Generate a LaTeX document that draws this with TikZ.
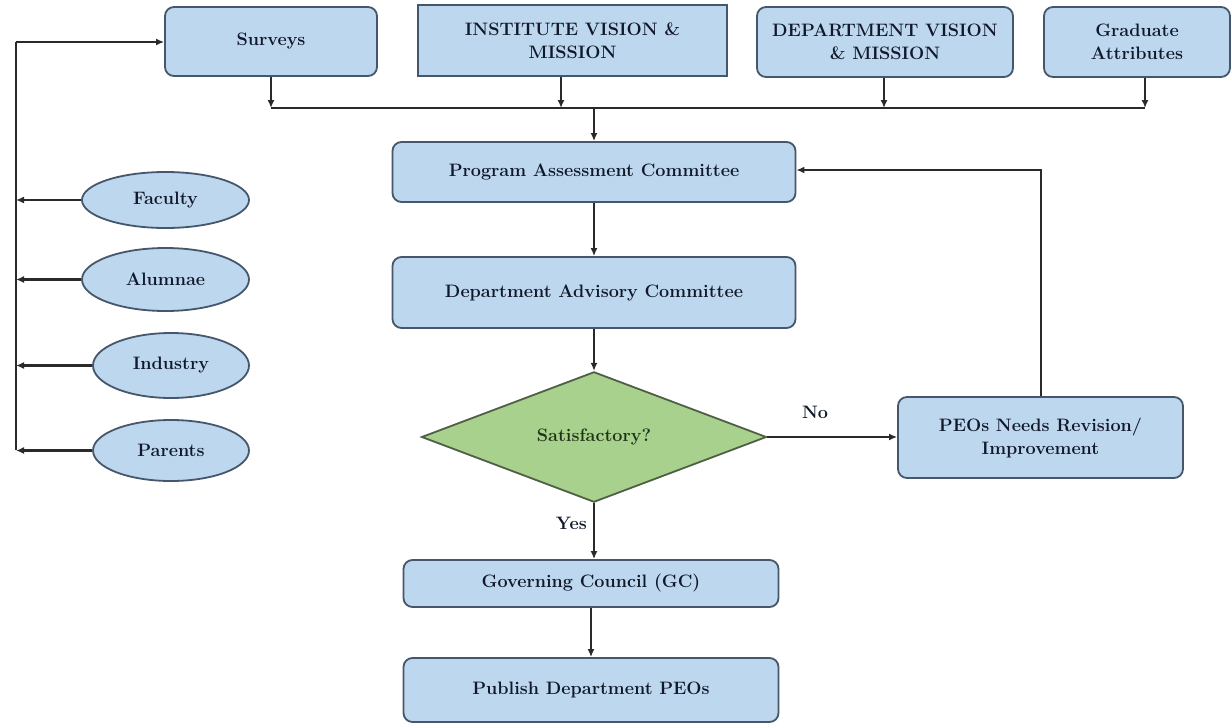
\documentclass[tikz,border=0pt]{standalone}
\usetikzlibrary{arrows.meta,shapes.geometric}
\definecolor{boxfill}{HTML}{BDD7EE}
\definecolor{boxline}{HTML}{46566B}
\definecolor{decfill}{HTML}{A9D18E}
\definecolor{decline}{HTML}{4F5F45}
\definecolor{txt}{HTML}{101829}
\definecolor{dectxt}{HTML}{1F3516}
\definecolor{wire}{HTML}{2A2A2A}
\tikzset{
  base/.style={draw=boxline, line width=1.8pt, fill=boxfill, inner sep=0pt, align=center,
    text=txt, font=\fontsize{18}{23}\selectfont\bfseries},
  rbox/.style={base, rounded corners=9pt, minimum width=#1},
  sbox/.style={base, minimum width=#1},
  oval/.style={base, ellipse, minimum width=#1},
  decision/.style={base, diamond, fill=decfill, draw=decline, text=dectxt},
  conn/.style={draw=wire, line width=2.4pt, -{Latex[length=8pt,width=7pt]}},
  plain/.style={draw=wire, line width=2.4pt},
  lbl/.style={text=txt, font=\fontsize{18}{23}\selectfont\bfseries, inner sep=0pt}
}
\begin{document}
\begin{tikzpicture}[x=1pt,y=-1pt]
\useasboundingbox (0,0) rectangle (1232,726);

% inputs along the top
\node[rbox=212, minimum height=69] (surveys) at (271,41.5) {Surveys};
\node[sbox=309, minimum height=71] (inst) at (572.5,40.5) {INSTITUTE VISION \&\\MISSION};
\node[rbox=256, minimum height=70] (dvm) at (885,42) {DEPARTMENT VISION\\\& MISSION};
\node[rbox=186, minimum height=70] (ga) at (1137,42) {Graduate\\Attributes};

% main flow
\node[rbox=403, minimum height=60] (pac) at (594,172) {Program Assessment Committee};
\node[rbox=403, minimum height=71] (dac) at (594,292.5) {Department Advisory Committee};
\node[decision, minimum width=345, minimum height=130] (sat) at (594,437) {Satisfactory?};
\node[rbox=285, minimum height=81] (peo) at (1040.5,437.5) {PEOs Needs Revision/\\Improvement};
\node[rbox=375, minimum height=47] (gc) at (591,583.5) {Governing Council (GC)};
\node[rbox=375, minimum height=64] (pub) at (591,690) {Publish Department PEOs};

% survey stakeholders
\node[oval=167, minimum height=56] (fac) at (165.5,200) {Faculty};
\node[oval=167, minimum height=63] (alu) at (165.5,279.5) {Alumnae};
\node[oval=156, minimum height=65] (ind) at (171,365.5) {Industry};
\node[oval=156, minimum height=61] (par) at (171,450.5) {Parents};

% collecting bus below the inputs
\coordinate (busL) at (271,108);
\coordinate (busR) at (1145,108);
\coordinate (busM) at (594,108);
\draw[plain] (busL) -- (busR);
\draw[conn] (surveys.south) -- (busL);
\draw[conn] (inst.south -| 561,0) -- (561,108);
\draw[conn] (dvm.south -| 884,0) -- (884,108);
\draw[conn] (ga.south -| busR) -- (busR);
\draw[conn] (busM) -- (pac.north);

% vertical flow
\draw[conn] (pac.south) -- (dac.north);
\draw[conn] (dac.south) -- (sat.north);
\draw[conn] (sat.south) -- (gc.north -| sat.south);
\draw[conn] (gc.south) -- (pub.north);
\node[lbl, anchor=east] (yes) at (587,523) {Yes};

% rejection branch and feedback loop
\draw[conn] (sat.east) -- (peo.west |- sat.east);
\node[lbl] (no) at (815,412) {No};
\coordinate (fbTop) at (1041,170);
\draw[conn] (peo.north -| fbTop) -- (fbTop) -- (pac.east |- fbTop);

% stakeholder feedback spine on the left
\coordinate (spTop) at (16,42);
\coordinate (spBot) at (16,450);
\draw[plain] (spBot) -- (spTop);
\draw[conn] (spTop) -- (surveys.west |- spTop);
\draw[conn] (fac.west) -- (fac.west -| spTop);
\draw[conn] (alu.west) -- (alu.west -| spTop);
\draw[conn] (ind.west) -- (ind.west -| spTop);
\draw[conn] (par.west) -- (par.west -| spTop);
\end{tikzpicture}
\end{document}
